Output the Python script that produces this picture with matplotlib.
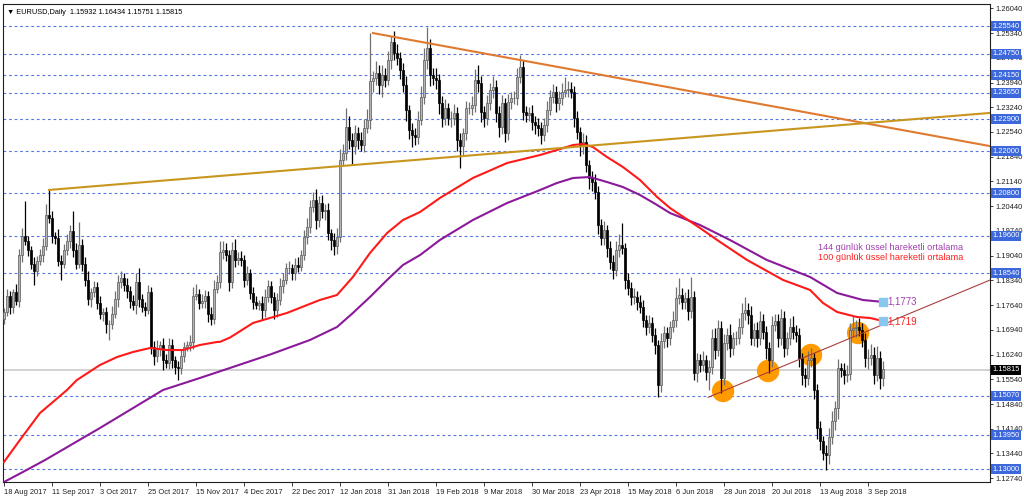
import matplotlib
matplotlib.use('Agg')
import matplotlib.pyplot as plt
import numpy as np

# ---------------- data (prices in pips: price = 1 + v/10000) ----------------
first_open = 1725
close_pips = [
    1745, 1790, 1760, 1800, 1775, 1905, 1960, 1945, 1920, 1880,
    1860, 1890, 1905, 1930, 2020, 2010, 1960, 1955, 1890, 1880,
    1920, 1945, 1975, 1920, 1880, 1935, 1880, 1835, 1780, 1800,
    1815, 1770, 1740, 1745, 1710, 1710, 1740, 1780, 1830, 1840,
    1820, 1805, 1775, 1765, 1830, 1780, 1760, 1750, 1800, 1645,
    1620, 1640, 1650, 1610, 1600, 1650, 1610, 1590, 1585, 1620,
    1645, 1650, 1660, 1790, 1795, 1770, 1775, 1790, 1740, 1725,
    1810, 1830, 1915, 1920, 1905, 1830, 1920, 1892, 1897, 1892,
    1835, 1854, 1798, 1774, 1765, 1769, 1751, 1788, 1817, 1788,
    1751, 1779, 1817, 1836, 1868, 1868, 1854, 1878, 1873, 1906,
    1958, 1986, 2043, 2062, 2005, 2052, 2029, 2034, 1967, 1949,
    1930, 1958, 2175, 2194, 2269, 2231, 2213, 2250, 2231, 2217,
    2265, 2288, 2397, 2406, 2420, 2387, 2415, 2401, 2458, 2510,
    2477, 2463, 2430, 2387, 2316, 2260, 2246, 2241, 2288, 2354,
    2458, 2491, 2415, 2406, 2401, 2335, 2293, 2321, 2293, 2293,
    2307, 2231, 2213, 2250, 2321, 2321, 2330, 2401, 2392, 2312,
    2293, 2335, 2373, 2382, 2307, 2269, 2335, 2250, 2340, 2349,
    2349, 2411, 2439, 2312, 2302, 2307, 2283, 2274, 2264, 2246,
    2274, 2316, 2354, 2368, 2335, 2349, 2368, 2373, 2377, 2368,
    2293, 2255, 2217, 2227, 2161, 2123, 2113, 2085, 1991, 1953,
    1977, 1925, 1887, 1864, 1920, 1934, 1925, 1835, 1812, 1788,
    1788, 1774, 1760, 1722, 1703, 1713, 1680, 1652, 1538, 1661,
    1684, 1670, 1703, 1722, 1784, 1793, 1774, 1784, 1746, 1788,
    1571, 1609, 1595, 1609, 1576, 1590, 1670, 1637, 1699, 1557,
    1656, 1680, 1642, 1670, 1670, 1703, 1741, 1751, 1736, 1670,
    1694, 1670, 1718, 1689, 1642, 1609, 1708, 1718, 1670, 1727,
    1642, 1670, 1703, 1689, 1680, 1614, 1567, 1557, 1609, 1614,
    1524, 1416, 1378, 1345, 1340, 1392, 1435, 1472, 1586, 1581,
    1567, 1570, 1694, 1699, 1703, 1694, 1666, 1614, 1614, 1623,
    1567, 1614, 1557, 1582,
]
upper_wick = [
    12, 20, 15, 10, 25, 18, 22, 100, 15, 12, 20, 14, 18, 25, 30, 70, 20, 12, 25, 15,
    18, 20, 15, 55, 20, 65, 15, 20, 25, 12, 18, 15, 20, 10, 15, 12, 22, 25, 18, 20,
    15, 20, 12, 18, 25, 40, 15, 12, 20, 15, 18, 25, 12, 20, 15, 22, 18, 10, 15, 20,
    15, 12, 18, 25, 30, 15, 20, 18, 15, 20, 25, 18, 30, 25, 20, 15, 22, 30, 18, 20,
    15, 20, 12, 18, 15, 10, 20, 22, 18, 15, 12, 20, 25, 18, 15, 20, 12, 18, 22, 15,
    20, 25, 18, 23, 30, 20, 25, 15, 20, 12, 18, 25, 30, 25, 52, 30, 20, 25, 18, 22,
    25, 30, 136, 20, 35, 25, 30, 20, 25, 15, 30, 25, 18, 20, 25, 15, 20, 18, 25, 30,
    35, 61, 25, 20, 30, 18, 20, 25, 15, 20, 25, 18, 20, 15, 22, 18, 25, 30, 43, 20,
    15, 25, 20, 30, 18, 20, 25, 15, 22, 18, 20, 25, 33, 20, 15, 18, 22, 15, 20, 18,
    20, 25, 18, 22, 15, 20, 25, 38, 20, 18, 15, 20, 12, 25, 18, 15, 20, 22, 15, 18,
    25, 15, 20, 18, 25, 30, 62, 15, 20, 18, 25, 15, 20, 18, 15, 22, 18, 20, 12, 25,
    20, 18, 15, 25, 30, 47, 20, 18, 25, 55, 15, 20, 18, 25, 15, 20, 25, 30, 22, 20,
    25, 20, 30, 18, 22, 25, 30, 37, 20, 25, 18, 22, 30, 20, 15, 18, 25, 20, 22, 25,
    20, 18, 25, 30, 20, 18, 15, 20, 25, 30, 15, 18, 20, 15, 22, 25, 30, 20, 25, 15,
    20, 25, 18, 33, 20, 25, 18, 20, 25, 30, 22, 35, 20, 25,
]
lower_wick = [
    15, 12, 20, 18, 12, 15, 20, 12, 18, 15, 39, 15, 12, 18, 10, 15, 20, 18, 15, 45,
    12, 15, 18, 20, 15, 12, 20, 18, 15, 20, 12, 18, 15, 20, 25, 44, 15, 12, 20, 18,
    15, 20, 18, 15, 25, 20, 15, 18, 12, 20, 25, 18, 20, 30, 15, 18, 25, 20, 33, 15,
    18, 12, 15, 20, 12, 18, 15, 20, 25, 18, 15, 12, 18, 20, 15, 25, 18, 20, 15, 18,
    20, 15, 18, 20, 12, 15, 29, 20, 15, 18, 25, 20, 15, 18, 12, 15, 20, 18, 15, 12,
    15, 20, 18, 15, 25, 20, 18, 25, 20, 30, 25, 20, 15, 18, 20, 25, 50, 20, 25, 18,
    20, 15, 25, 30, 20, 25, 35, 20, 15, 25, 20, 18, 25, 20, 30, 25, 35, 25, 20, 15,
    20, 25, 30, 20, 25, 30, 25, 20, 18, 25, 20, 30, 62, 25, 20, 15, 18, 20, 25, 30,
    25, 20, 18, 22, 25, 30, 20, 25, 18, 20, 15, 20, 18, 25, 20, 18, 22, 25, 20, 25,
    18, 20, 15, 18, 25, 20, 18, 15, 20, 18, 25, 20, 30, 25, 20, 30, 25, 20, 25, 20,
    18, 25, 20, 25, 18, 20, 15, 25, 20, 25, 20, 25, 18, 20, 25, 18, 20, 25, 33, 20,
    18, 25, 20, 15, 20, 18, 22, 20, 25, 18, 20, 25, 20, 18, 25, 52, 20, 25, 18, 42,
    20, 18, 25, 20, 18, 15, 20, 18, 25, 20, 22, 25, 18, 20, 30, 38, 20, 18, 25, 20,
    25, 20, 18, 22, 20, 25, 30, 25, 18, 20, 25, 30, 25, 20, 42, 25, 20, 25, 30, 20,
    25, 20, 18, 20, 25, 18, 20, 25, 30, 20, 25, 18, 30, 22,
]

# EMA 100 (red) and EMA 144 (purple): bar index, price
ema100_bar = [0, 5.3, 12, 21, 24.3, 32, 37.7, 43, 48.7, 54.3, 59.7, 65.3, 71, 72, 75.3,
              83, 94.3, 105.3, 111, 116.3, 122, 127.7, 133, 138.7, 145.3, 156.3, 167.7,
              178.7, 184.3, 189.7, 193, 196.3, 201, 206.3, 212, 217.7, 222, 232, 238.7,
              247.7, 259.7, 268.7, 273, 277.7, 284.3, 288.7, 293]
ema100_val = [1.13199, 1.13822, 1.14586, 1.15237, 1.15520, 1.15945, 1.16171, 1.16313,
              1.16426, 1.16369, 1.16369, 1.16511, 1.16596, 1.16600, 1.16720, 1.17134,
              1.17417, 1.17785, 1.17926, 1.18436, 1.19115, 1.19681, 1.20049, 1.20276,
              1.20672, 1.21238, 1.21662, 1.21889, 1.22030, 1.22172, 1.22200, 1.22115,
              1.21832, 1.21549, 1.21182, 1.20700, 1.20389, 1.19822, 1.19426, 1.18917,
              1.18351, 1.18068, 1.17700, 1.17445, 1.17304, 1.17275, 1.17190]
ema144_bar = [0, 6.3, 13.7, 32, 53, 65.3, 75.3, 89, 102, 111, 116.3, 122, 127.7, 133,
              138.7, 145.3, 156.3, 167.7, 178.7, 184.3, 189.7, 195.3, 201, 206.3, 212,
              217.7, 222, 232, 242, 254.3, 268.7, 277.7, 286.3, 293]
ema144_val = [1.12633, 1.12916, 1.13256, 1.14162, 1.15237, 1.15577, 1.15860, 1.16250,
              1.16653, 1.17020, 1.17417, 1.17870, 1.18351, 1.18776, 1.19058, 1.19483,
              1.20049, 1.20530, 1.20898, 1.21096, 1.21238, 1.21266, 1.21124, 1.20983,
              1.20757, 1.20474, 1.20247, 1.19907, 1.19483, 1.18917, 1.18436, 1.17983,
              1.17785, 1.17730]

# trend lines (bar index, price)
line_orange = [(123, 1.2534), (328.7, 1.2214)]
line_gold = [(15, 1.2090), (328.7, 1.2308)]
line_brown = [(234.7, 1.1503), (328.7, 1.1835)]

# orange touch points on the rising line
touch_bar = [239.7, 254.7, 269.0, 284.7]
touch_val = [1.15209, 1.15775, 1.16228, 1.16851]

# horizontal levels and right-axis ticks
levels = [1.2554, 1.2475, 1.2415, 1.2365, 1.2290, 1.2200, 1.2080, 1.1960, 1.1854,
          1.1507, 1.1395, 1.1300]
axis_ticks = [1.2604, 1.2534, 1.2464, 1.2394, 1.2324, 1.2254, 1.2184, 1.2114, 1.2044,
              1.1974, 1.1904, 1.1834, 1.1764, 1.1694, 1.1624, 1.1554, 1.1484, 1.1414,
              1.1344, 1.1274]
last_price = 1.15815

date_labels = ['18 Aug 2017', '11 Sep 2017', '3 Oct 2017', '25 Oct 2017', '15 Nov 2017',
               '4 Dec 2017', '22 Dec 2017', '12 Jan 2018', '31 Jan 2018', '19 Feb 2018',
               '9 Mar 2018', '30 Mar 2018', '23 Apr 2018', '15 May 2018', '6 Jun 2018',
               '28 Jun 2018', '20 Jul 2018', '13 Aug 2018', '3 Sep 2018']
date_step = 16

# ---------------- drawing ----------------
FONT = ['Liberation Sans', 'DejaVu Sans']
plt.rcParams['font.family'] = FONT

W, H = 1024, 499
fig = plt.figure(figsize=(W / 100, H / 100), dpi=100)
fig.patch.set_facecolor('white')
ax = fig.add_axes([3 / W, 1 - 482 / H, (990 - 3) / W, (482 - 4) / H])

closes = 1 + np.array(close_pips) / 10000.0
opens = np.concatenate([[1 + first_open / 10000.0], closes[:-1]])
tops = np.maximum(opens, closes)
bots = np.minimum(opens, closes)
highs = tops + np.array(upper_wick) / 10000.0
lows = bots - np.array(lower_wick) / 10000.0
n = len(closes)
xs = np.arange(n)
up = closes >= opens

# level lines
for lv in levels:
    ax.axhline(lv, color='#5577e0', lw=0.8, ls=(0, (2.5, 2.5)), zorder=1)
ax.axhline(last_price, color='#cfcfcf', lw=1.3, zorder=1)

# touch circles
ax.scatter(touch_bar, touch_val, s=260, color='#ff9a00', edgecolors='none', zorder=2)

# wicks
ax.vlines(xs[up], lows[up], highs[up], color='#707070', lw=0.9, zorder=3)
ax.vlines(xs[~up], lows[~up], highs[~up], color='#000000', lw=0.9, zorder=3)
# bodies
hgt = np.maximum(tops - bots, 0.00015)
ax.bar(xs[up], hgt[up], bottom=bots[up], width=0.8, color='#b4b4b4',
       edgecolor='#5a5a5a', linewidth=0.5, zorder=4)
ax.bar(xs[~up], hgt[~up], bottom=bots[~up], width=0.8, color='#000000',
       edgecolor='#000000', linewidth=0.5, zorder=4)

# moving averages
ax.plot(ema144_bar, ema144_val, color='#8a1a9a', lw=1.5, zorder=5)
ax.plot(ema100_bar, ema100_val, color='#ff1a1a', lw=1.5, zorder=5)

# trend lines
for pts, col, lw in [(line_orange, '#e07a30', 1.5), (line_gold, '#c8961e', 1.5),
                     (line_brown, '#a8403c', 0.8)]:
    ax.plot([pts[0][0], pts[1][0]], [pts[0][1], pts[1][1]], color=col, lw=lw, zorder=5)

# end markers and labels for the averages
ax.scatter([ema144_bar[-1], ema100_bar[-1]], [ema144_val[-1], ema100_val[-1]], marker='s',
           s=30, color='#88c8ee', zorder=6)
ax.text(ema144_bar[-1] + 1.3, ema144_val[-1], '1,1773', color='#a040b0', fontsize=7,
        va='center', ha='left', zorder=7)
ax.text(ema100_bar[-1] + 1.3, ema100_val[-1], '1,1719', color='#ff2020', fontsize=7,
        va='center', ha='left', zorder=7)
ax.text(271.3, 1.19257, '144 günlük üssel hareketli ortalama', color='#a040b0',
        fontsize=6.6, va='center', ha='left', zorder=7)
ax.text(271.3, 1.18974, '100 günlük üssel hareketli ortalama', color='#ff2020',
        fontsize=6.6, va='center', ha='left', zorder=7)

# header
ax.text(0.004, 0.989, '\u25bc EURUSD,Daily  1.15932 1.16434 1.15751 1.15815',
        transform=ax.transAxes, fontsize=5.3, va='top', ha='left', family=FONT, zorder=8)

# axes limits and frame
ax.set_xlim(-0.33, 328.67)
ax.set_ylim(1.12633, 1.26163)
for sp in ax.spines.values():
    sp.set_color('#202020')
    sp.set_linewidth(0.8)

ax.yaxis.tick_right()
ax.set_yticks(axis_ticks)
ax.set_yticklabels(['%.5f' % t for t in axis_ticks])
ax.tick_params(axis='y', direction='out', length=2.5, width=0.6, labelsize=5.4,
               pad=1.5, colors='#202020')
ticks_x = [i * date_step for i in range(len(date_labels))]
ax.set_xticks(ticks_x)
ax.set_xticklabels(date_labels, ha='left')
ax.tick_params(axis='x', direction='out', length=3, width=0.6, labelsize=5.4, pad=2,
               colors='#202020')

ytrans = ax.get_yaxis_transform()
for lv in levels:
    ax.text(1.0025, lv, '%.5f' % lv, transform=ytrans, fontsize=5.4, color='white',
            va='center', ha='left', zorder=9, clip_on=False,
            bbox=dict(boxstyle='square,pad=0.2', fc='#3d68dc', ec='none'))
ax.text(1.0025, last_price, '%.5f' % last_price, transform=ytrans, fontsize=5.4,
        color='white', va='center', ha='left', zorder=9, clip_on=False,
        bbox=dict(boxstyle='square,pad=0.2', fc='#000000', ec='none'))

fig.savefig('out.png', dpi=100, facecolor='white')
